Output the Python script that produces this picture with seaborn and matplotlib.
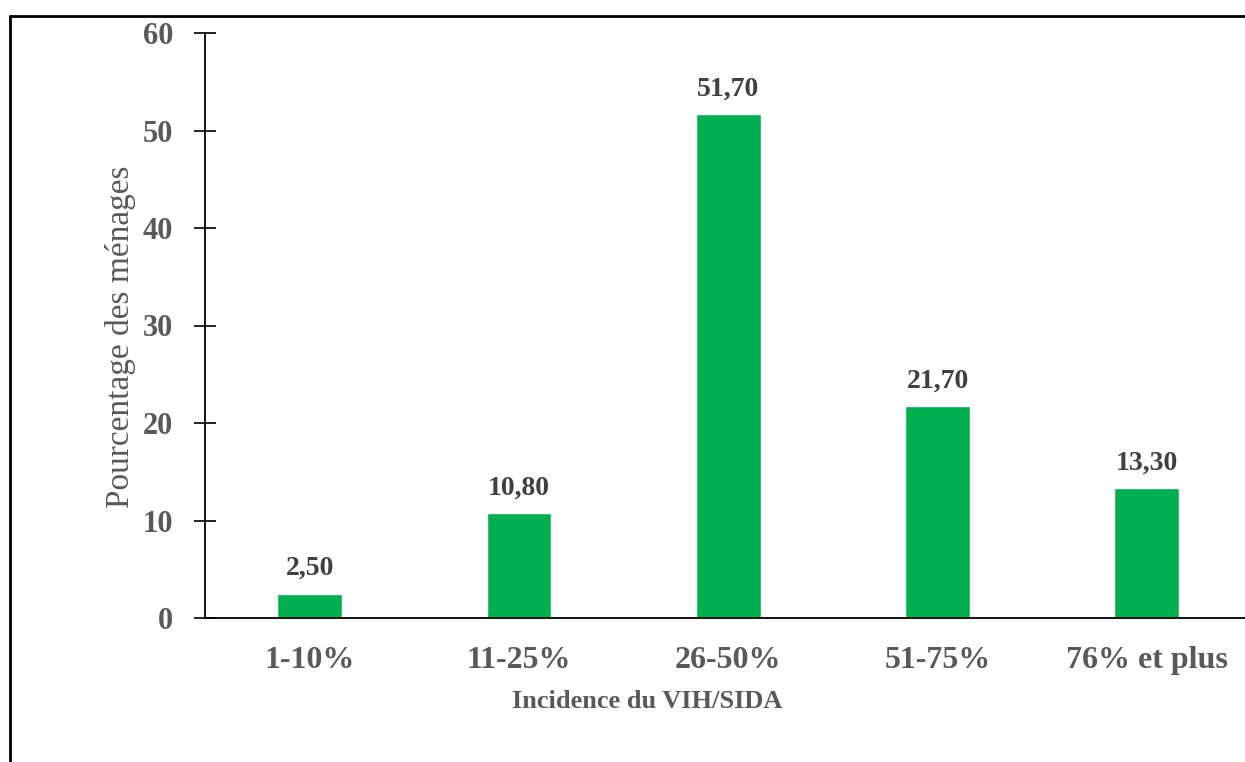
import matplotlib
matplotlib.use("Agg")
import matplotlib.pyplot as plt
from matplotlib.lines import Line2D
import seaborn as sns
import pandas as pd

categories = ["1-10%", "11-25%", "26-50%", "51-75%", "76% et plus"]
values = [2.50, 10.80, 51.70, 21.70, 13.30]
value_labels = ["2,50", "10,80", "51,70", "21,70", "13,30"]
y_ticks = [0, 10, 20, 30, 40, 50, 60]

sns.set_theme(style="white")
plt.rcParams["font.family"] = ["Liberation Serif", "DejaVu Serif"]

df = pd.DataFrame({"incidence": categories, "pct": values})

fig = plt.figure(figsize=(12.45, 7.62), dpi=100)
ax = fig.add_axes([205 / 1245, 1 - 618 / 762, (1251.5 - 205) / 1245, (618 - 33) / 762])

sns.barplot(data=df, x="incidence", y="pct", color="#00B050", width=0.31,
            saturation=1, ax=ax)

ax.set_xlim(-0.5, len(categories) - 0.5)
ax.set_ylim(0, 60)
ax.set_yticks(y_ticks)

grey = "#595959"
ax.tick_params(axis="y", left=True, direction="inout", length=16, width=1.2,
               color="black", labelsize=22, labelcolor=grey, pad=15)
ax.tick_params(axis="x", bottom=False, length=0, labelsize=23, labelcolor=grey, pad=20)
for lab in ax.get_yticklabels() + ax.get_xticklabels():
    lab.set_fontweight("bold")

for side in ["top", "right"]:
    ax.spines[side].set_visible(False)
for side in ["left", "bottom"]:
    ax.spines[side].set_color("black")
    ax.spines[side].set_linewidth(1.3)

ax.set_ylabel("Pourcentage des ménages", fontsize=24, color=grey, labelpad=14)
ax.set_xlabel("Incidence du VIH/SIDA", fontsize=19, color=grey, fontweight="bold",
              labelpad=12)
ax.xaxis.set_label_coords((647 - 205) / (1251.5 - 205), -(702 - 618) / (618 - 33))
ax.xaxis.label.set_va("center")
ax.yaxis.set_label_coords(-(205 - 121) / (1251.5 - 205), (618 - 337) / (618 - 33))
ax.yaxis.label.set_va("center")

for patch, lab in zip(ax.patches, value_labels):
    ax.annotate(lab, (patch.get_x() + patch.get_width() / 2, patch.get_height()),
                xytext=(0, 9), textcoords="offset points", ha="center", va="bottom",
                fontsize=20, fontweight="bold", color="#404040")

# outer frame of the chart area
fig.add_artist(Line2D([10 / 1245, 10 / 1245], [0, 1 - 16 / 762], transform=fig.transFigure,
                      color="black", linewidth=2))
fig.add_artist(Line2D([10 / 1245, 1], [1 - 16 / 762, 1 - 16 / 762], transform=fig.transFigure,
                      color="black", linewidth=2))

fig.savefig("out.png", dpi=100)
